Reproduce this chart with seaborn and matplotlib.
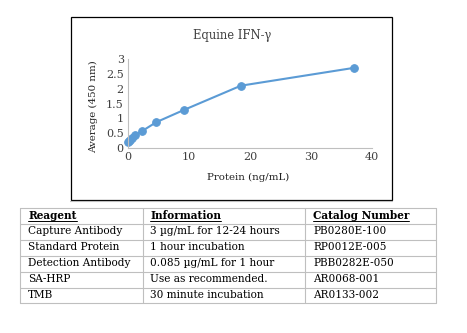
import matplotlib
matplotlib.use("Agg")
import matplotlib.pyplot as plt
import seaborn as sns
import pandas as pd

# ---- data ----
protein = [0, 0.14, 0.29, 0.58, 1.16, 2.31, 4.63, 9.25, 18.5, 37]
average = [0.20, 0.24, 0.28, 0.35, 0.43, 0.57, 0.87, 1.29, 2.10, 2.70]
title = "Equine IFN-\u03b3"
xlabel = "Protein (ng/mL)"
ylabel = "Average (450 nm)"
xticks = [0, 10, 20, 30, 40]
yticks = [0, 0.5, 1, 1.5, 2, 2.5, 3]
ytick_labels = ["0", "0.5", "1", "1.5", "2", "2.5", "3"]
table_header = ["Reagent", "Information", "Catalog Number"]
col_reagent = ["Capture Antibody", "Standard Protein", "Detection Antibody", "SA-HRP", "TMB"]
col_info = ["3 \u00b5g/mL for 12-24 hours", "1 hour incubation", "0.085 \u00b5g/mL for 1 hour",
            "Use as recommended.", "30 minute incubation"]
col_catalog = ["PB0280E-100", "RP0012E-005", "PBB0282E-050", "AR0068-001", "AR0133-002"]

sns.set_theme(style="white")
plt.rcParams['font.family'] = ['DejaVu Serif']

W, H = 467, 333
fig = plt.figure(figsize=(W / 100, H / 100), dpi=100)
fig.patch.set_facecolor("white")

def fx(px):
    return px / W

def fy(py):
    return 1 - py / H

# chart frame
frame = fig.add_axes([0, 0, 1, 1], zorder=-1)
frame.set_xlim(0, W)
frame.set_ylim(H, 0)
frame.axis("off")
frame.add_patch(plt.Rectangle((70.5, 16.5), 321.5, 183, fill=False, edgecolor="black", lw=0.9))
frame.plot([70, 392], [201, 201], color="#BFBFBF", lw=0.8)

# plot axes
ax = fig.add_axes([fx(128), fy(148), fx(372) - fx(128), fy(59) - fy(148)])
df = pd.DataFrame({"protein": protein, "average": average})
color = "#5B9BD5"
sns.lineplot(data=df, x="protein", y="average", ax=ax, color=color, lw=1.5,
             marker="o", markersize=5.5, markeredgecolor=color, markerfacecolor=color)
for ln in ax.lines:
    ln.set_clip_on(False)
ax.set_xlim(0, 40)
ax.set_ylim(0, 3)
ax.set_xticks(xticks)
ax.set_yticks(yticks)
ax.set_yticklabels(ytick_labels)
ax.tick_params(length=0, labelsize=8, colors="#404040", pad=3)
for s in ["top", "right"]:
    ax.spines[s].set_visible(False)
for s in ["left", "bottom"]:
    ax.spines[s].set_color("#BFBFBF")
    ax.spines[s].set_linewidth(0.8)
ax.set_xlabel("")
ax.set_ylabel("")
ax.set_facecolor("none")
ax.grid(False)

frame.text(232, 35, title, ha="center", va="center", fontsize=8.3, color="#404040")
frame.text(248, 177, xlabel, ha="center", va="center", fontsize=7.4, color="#202020")
frame.text(94, 107, ylabel, ha="center", va="center", fontsize=7.4, color="#202020", rotation=90)

# table
tl, tr = 20, 436
cols = [20, 143, 305, 436]
rows = [208, 223.5, 239.5, 255.5, 271.5, 287.5, 303]
lc = "#BFBFBF"
for r in rows:
    frame.plot([tl, tr], [r, r], color=lc, lw=0.8)
for c in cols:
    frame.plot([c, c], [rows[0], rows[-1]], color=lc, lw=0.8)
text_x = [28, 150, 313]
fs = 7.6
header_texts = []
for x, t in zip(text_x, table_header):
    ht = frame.text(x, (rows[0] + rows[1]) / 2, t, ha="left", va="center",
                    fontsize=fs, fontweight="bold", color="black")
    header_texts.append(ht)
for i in range(5):
    yc = (rows[i + 1] + rows[i + 2]) / 2
    for x, col in zip(text_x, [col_reagent, col_info, col_catalog]):
        frame.text(x, yc, col[i], ha="left", va="center", fontsize=fs, color="black")

fig.canvas.draw()
rend = fig.canvas.get_renderer()
for ht in header_texts:
    bb = ht.get_window_extent(rend)
    frame.plot([bb.x0, bb.x1], [220.5, 220.5], color="black", lw=0.7)

fig.savefig("out.png", dpi=100, facecolor="white")
